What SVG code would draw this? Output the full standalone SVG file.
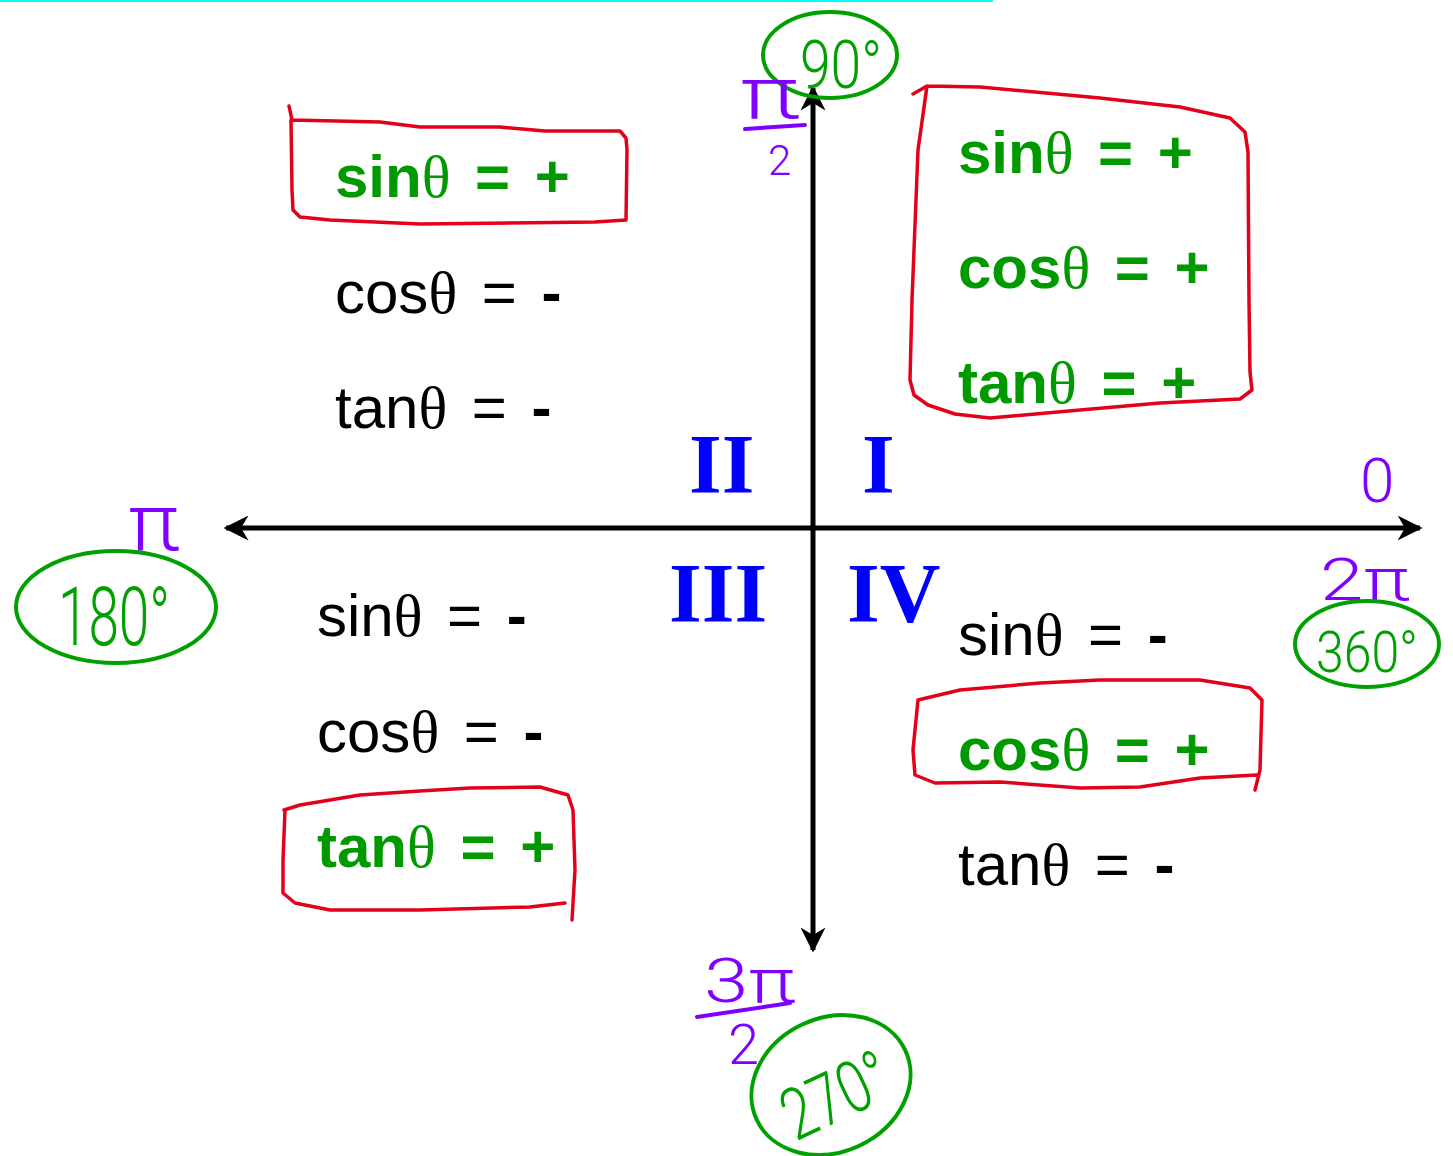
<svg xmlns="http://www.w3.org/2000/svg" width="1453" height="1156" viewBox="0 0 1453 1156">
<defs>
<style>
.eq{font-family:"Liberation Sans",Arial,sans-serif;font-size:60px;fill:#000;word-spacing:8px}
.pos{fill:#009900;font-weight:bold}
.th{font-family:"Liberation Serif","Times New Roman",serif;font-weight:normal}
.bd{font-weight:bold}
.rn{font-family:"Liberation Serif","Times New Roman",serif;font-weight:bold;font-size:84px;fill:#0000FF}
.box{fill:none;stroke:#E2001A;stroke-width:3.5;stroke-linejoin:round;stroke-linecap:round}
.ring{fill:none;stroke:#00A000;stroke-width:4}
.deg{font-family:Roboto,"DejaVu Sans",sans-serif;font-weight:300;fill:#00A000}
.rad{font-family:Roboto,"DejaVu Sans",sans-serif;font-weight:300;fill:#7F00FF}
.frac{stroke:#7F00FF;stroke-width:4;stroke-linecap:round;fill:none}
.axis{stroke:#000;stroke-width:5;fill:none}
</style>
<marker id="ah" viewBox="0 0 10 10" refX="9" refY="5" markerWidth="5" markerHeight="5" orient="auto" markerUnits="strokeWidth">
<path d="M0,0 L10,5 L0,10 L3,5 Z" fill="#000"/>
</marker>
</defs>
<rect width="1453" height="1156" fill="#fff"/>
<line x1="0" y1="1" x2="993" y2="1" stroke="#00FFFF" stroke-width="2"/>

<g id="connectors">
<line class="axis" x1="813" y1="528" x2="1420" y2="528" marker-end="url(#ah)"/>
<line class="axis" x1="813" y1="528" x2="226" y2="528" marker-end="url(#ah)"/>
<line class="axis" x1="813" y1="528" x2="813" y2="88" marker-end="url(#ah)"/>
<line class="axis" x1="813" y1="528" x2="813" y2="950" marker-end="url(#ah)"/>
</g>

<g id="quadrant-I">
<path class="box" d="M913,94 L927,86 L980,87 L1100,98 L1180,107 L1230,118 L1245,132 L1248,152 L1249,300 L1250,372 L1252,390 L1240,399 L1160,403 L1080,410 L990,418 L955,414 L928,405 L914,395 L910,380 L912,300 L918,150 L927,86"/>
<text class="eq pos" x="958" y="173">sin<tspan class="th">θ</tspan> = +</text>
<text class="eq pos" x="958" y="288">cos<tspan class="th">θ</tspan> = +</text>
<text class="eq pos" x="958" y="403">tan<tspan class="th">θ</tspan> = +</text>
<text class="rn" x="862" y="493">I</text>
</g>

<g id="quadrant-II">
<path class="box" d="M289,106 L292,120 L380,122 L420,127 L500,127 L545,131 L620,131 L626,138 L627,150 L626,220 L595,222 L420,224 L330,220 L300,217 L293,210 L292,190 L291,120"/>
<text class="eq pos" x="335" y="197">sin<tspan class="th">θ</tspan> = +</text>
<text class="eq" x="335" y="313">cos<tspan class="th">θ</tspan> = <tspan class="bd">-</tspan></text>
<text class="eq" x="335" y="428">tan<tspan class="th">θ</tspan> = <tspan class="bd">-</tspan></text>
<text class="rn" x="689" y="493">II</text>
</g>

<g id="quadrant-III">
<path class="box" d="M284,810 L300,805 L360,795 L420,791 L470,788 L540,787 L568,795 L573,810 L575,870 L572,920 M565,903 L530,907 L420,910 L330,910 L295,903 L283,893 L283,860 L285,810"/>
<text class="eq" x="317" y="636">sin<tspan class="th">θ</tspan> = <tspan class="bd">-</tspan></text>
<text class="eq" x="317" y="752">cos<tspan class="th">θ</tspan> = <tspan class="bd">-</tspan></text>
<text class="eq pos" x="317" y="867">tan<tspan class="th">θ</tspan> = +</text>
<text class="rn" x="669" y="622">III</text>
</g>

<g id="quadrant-IV">
<path class="box" d="M918,700 L960,690 L1040,683 L1100,680 L1200,680 L1250,688 L1262,700 L1260,770 L1255,790 M1257,775 L1200,778 L1140,787 L1080,788 L1000,782 L935,783 L915,775 L913,750 L918,700"/>
<text class="eq" x="958" y="655">sin<tspan class="th">θ</tspan> = <tspan class="bd">-</tspan></text>
<text class="eq pos" x="958" y="770">cos<tspan class="th">θ</tspan> = +</text>
<text class="eq" x="958" y="885">tan<tspan class="th">θ</tspan> = <tspan class="bd">-</tspan></text>
<text class="rn" x="847" y="622">IV</text>
</g>

<g id="label-90">
<ellipse class="ring" cx="830" cy="55" rx="67" ry="43"/>
<text class="deg" x="800" y="88" font-size="66" textLength="82" lengthAdjust="spacingAndGlyphs">90°</text>
<text class="rad" x="740" y="118" font-size="72" textLength="60" lengthAdjust="spacingAndGlyphs">π</text>
<line class="frac" x1="745" y1="129" x2="805" y2="125"/>
<text class="rad" x="768" y="175" font-size="42">2</text>
</g>

<g id="label-180">
<ellipse class="ring" cx="116" cy="607" rx="100" ry="56"/>
<text class="deg" x="58" y="645" font-size="82" textLength="112" lengthAdjust="spacingAndGlyphs">180°</text>
<text class="rad" x="128" y="550" font-size="80" textLength="52" lengthAdjust="spacingAndGlyphs">π</text>
</g>

<g id="label-0">
<text class="rad" x="1360" y="502" font-size="62">0</text>
<text class="rad" x="1320" y="600" font-size="60" textLength="90" lengthAdjust="spacingAndGlyphs">2π</text>
<ellipse class="ring" cx="1367" cy="644" rx="72" ry="43"/>
<text class="deg" x="1316" y="672" font-size="58" textLength="102" lengthAdjust="spacingAndGlyphs">360°</text>
</g>

<g id="label-270">
<text class="rad" x="704" y="1002" font-size="62" textLength="92" lengthAdjust="spacingAndGlyphs">3π</text>
<line class="frac" x1="697" y1="1017" x2="790" y2="1003"/>
<text class="rad" x="728" y="1064" font-size="56">2</text>
<ellipse class="ring" cx="831" cy="1085" rx="82" ry="67" transform="rotate(-25 831 1085)"/>
<text class="deg" x="776" y="1122" font-size="72" textLength="112" lengthAdjust="spacingAndGlyphs" transform="rotate(-25 830 1088)">270°</text>
</g>
</svg>
